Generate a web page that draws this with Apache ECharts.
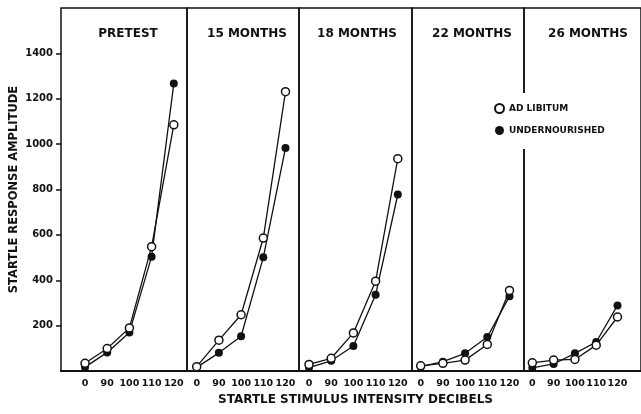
<!DOCTYPE html>
<html>
<head>
<meta charset="utf-8">
<script src="https://cdn.jsdelivr.net/npm/echarts@6/dist/echarts.min.js"></script>
<style>
  html, body { margin: 0; padding: 0; background: #fff; }
  #chart { width: 641px; height: 414px; }
</style>
</head>
<body>
<div id="chart"></div>
<script>
// stimulus intensity categories (dB) and panel names
const categories = ['0', '90', '100', '110', '120'];
const panels = ['PRETEST', '15 MONTHS', '18 MONTHS', '22 MONTHS', '26 MONTHS'];

// startle amplitude, one row per panel
const adLibitum = [
  [34, 99, 190, 548, 1085],
  [19, 136, 248, 586, 1231],
  [29, 56, 168, 396, 936],
  [23, 34, 48, 117, 355],
  [36, 48, 51, 114, 238]
];
const undernourished = [
  [17, 82, 170, 504, 1267],
  [16, 80, 153, 501, 983],
  [15, 45, 110, 336, 778],
  [19, 41, 78, 150, 329],
  [14, 31, 78, 128, 289]
];

// panel boxes in px, pad = distance from panel edge to the "0" point
const layout = [
  { left: 61, width: 126, pad: 24, titleX: 123 },
  { left: 187, width: 112, pad: 9.7, titleX: 242 },
  { left: 299, width: 113, pad: 10, titleX: 352 },
  { left: 412, width: 112, pad: 8.7, titleX: 467 },
  { left: 524, width: 122, pad: 8.7, titleX: 583 }
];
const step = 22.2;
const font = 'DejaVu Sans';
const ink = '#111';

const chart = echarts.init(document.getElementById('chart'));

const grid = [], xAxis = [], yAxis = [], series = [], title = [];
layout.forEach((p, i) => {
  grid.push({
    left: p.left, top: 8, width: p.width, height: 363,
    show: true, borderColor: ink, borderWidth: 1.5
  });
  const min = -p.pad / step;
  xAxis.push({
    gridIndex: i, type: 'value', min: min, max: min + p.width / step,
    axisLine: { show: true, onZero: false, lineStyle: { color: ink, width: 2 } },
    axisTick: { show: false },
    splitLine: { show: false },
    axisLabel: {
      customValues: [0, 1, 2, 3, 4],
      formatter: (v) => categories[Math.round(v)],
      margin: 8, color: ink, fontFamily: font, fontWeight: 'bold', fontSize: 9.5
    },
    name: i === 2 ? 'STARTLE STIMULUS INTENSITY DECIBELS' : '',
    nameLocation: 'middle', nameGap: 18,
    nameTextStyle: { color: ink, fontFamily: font, fontWeight: 'bold', fontSize: 12 }
  });
  if (i === 0) {
    yAxis.push({
      gridIndex: 0, type: 'value', min: 0, max: 1600, interval: 200,
      axisLine: { show: false, onZero: false },
      axisTick: { show: true, length: 5, lineStyle: { color: ink, width: 1.5 } },
      splitLine: { show: false },
      axisLabel: {
        showMinLabel: false, showMaxLabel: false,
        formatter: (v) => String(v),
        margin: 8,
        color: ink, fontFamily: font, fontWeight: 'bold', fontSize: 10
      },
      name: 'STARTLE RESPONSE AMPLITUDE',
      nameLocation: 'middle', nameGap: 41, nameRotate: 90,
      nameTextStyle: { color: ink, fontFamily: font, fontWeight: 'bold', fontSize: 11.5 }
    });
  } else {
    yAxis.push({ gridIndex: i, type: 'value', min: 0, max: 1600, show: false });
  }
  title.push({
    text: panels[i],
    left: p.titleX, top: 23, textAlign: 'center',
    textStyle: { color: ink, fontFamily: font, fontWeight: 'bold', fontSize: 12 }
  });
  series.push({
    name: 'AD LIBITUM', type: 'line', xAxisIndex: i, yAxisIndex: i,
    data: adLibitum[i].map((v, k) => [k, v]),
    symbol: 'circle', symbolSize: 8,
    itemStyle: { color: '#fff', borderColor: ink, borderWidth: 1.5 },
    lineStyle: { color: ink, width: 1.3 },
    z: 3
  });
  series.push({
    name: 'UNDERNOURISHED', type: 'line', xAxisIndex: i, yAxisIndex: i,
    data: undernourished[i].map((v, k) => [k, v]),
    symbol: 'circle', symbolSize: 8,
    itemStyle: { color: ink },
    lineStyle: { color: ink, width: 1.3 },
    z: 2
  });
});

const option = {
  backgroundColor: '#fff',
  animation: false,
  title: title,
  grid: grid,
  xAxis: xAxis,
  yAxis: yAxis,
  legend: {
    data: [
      { name: 'AD LIBITUM', icon: 'circle' },
      { name: 'UNDERNOURISHED', icon: 'circle' }
    ],
    orient: 'vertical',
    left: 490, top: 93,
    padding: [10, 20, 14, 4],
    itemWidth: 9, itemHeight: 9, itemGap: 12,
    backgroundColor: '#fff',
    textStyle: { color: ink, fontFamily: font, fontWeight: 'bold', fontSize: 9 }
  },
  series: series
};

chart.setOption(option);
</script>
</body>
</html>
